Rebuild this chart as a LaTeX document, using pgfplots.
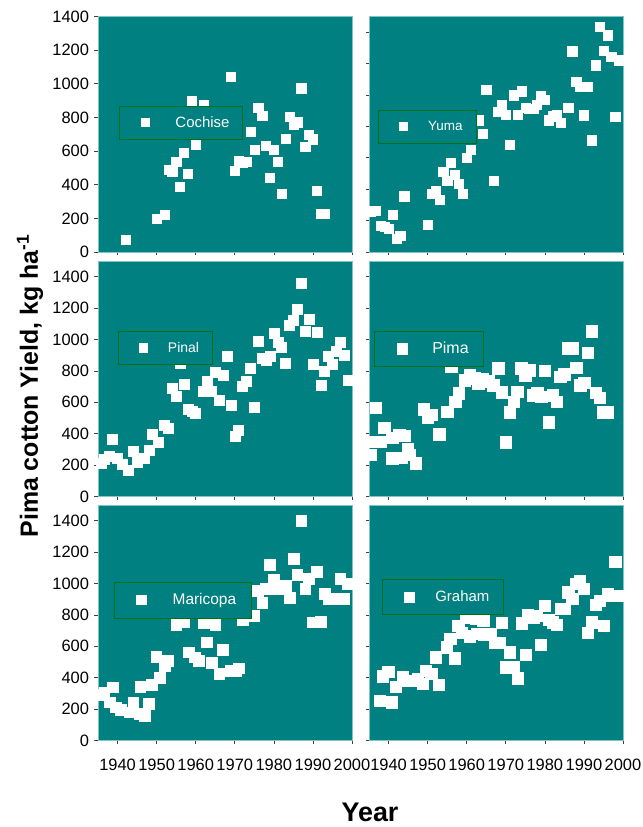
\documentclass[border=0pt]{standalone}
\usepackage{pgfplots}
\pgfplotsset{compat=1.18}
\usepackage{pgfplotstable}
\usepackage{fontspec}
\setmainfont{Liberation Sans}
\definecolor{tealbg}{RGB}{0,128,128}
\definecolor{tealedge}{RGB}{130,195,195}
\definecolor{leggreen}{RGB}{0,112,20}

\pgfplotstableread{
year yield
1942 75
1950 200
1952 220
1953 489
1954 479
1955 535
1956 390
1957 588
1958 465
1959 897
1960 641
1962 873
1969 1043
1970 483
1971 545
1972 533
1973 535
1974 715
1975 606
1976 859
1977 812
1978 632
1979 444
1980 606
1981 537
1982 345
1983 675
1984 802
1985 756
1986 772
1987 974
1988 628
1989 697
1990 671
1991 362
1992 228
1993 228
}\cochise

\pgfplotstableread{
year yield
1935.4 260
1936.7 265
1938 170
1939 160
1940 150
1941 240
1942 87
1943 102
1944 356
1950 176
1951 373
1952 388
1953 335
1954 511
1955 454
1956 570
1957 490
1958 437
1959 373
1960 602
1961 649
1963 840
1964 755
1965 1035
1967 454
1968 893
1969 939
1970 876
1971 681
1972 999
1973 876
1974 1024
1975 920
1976 912
1977 912
1978 939
1979 992
1980 971
1981 840
1982 865
1983 871
1984 825
1986 920
1987 1279
1988 1083
1989 1052
1990 871
1991 1052
1992 712
1993 1190
1994 1434
1995 1281
1996 1381
1997 1245
1998 861
1999 1221
}\yuma

\pgfplotstableread{
year yield
1935.7 212
1936.6 240
1937.9 254
1938.7 367
1940.0 244
1941.3 206
1942.7 170
1943.9 286
1945.0 218
1946.7 244
1948.0 297
1948.8 399
1950.5 346
1952.0 456
1953.0 435
1954 689
1955 636
1956 848
1957 717
1958 558
1959 541
1960 530
1962 672
1963 732
1964 668
1965 789
1966 611
1967 770
1968 891
1969 579
1970 382
1971 420
1972 704
1973 732
1974 817
1975 568
1976 986
1977 884
1978 870
1979 895
1980 1039
1981 982
1982 952
1983 848
1984 1092
1985 1124
1986 1194
1987 1357
1988 1050
1989 1131
1990 844
1991 1044
1992 711
1993 795
1994 891
1995 842
1996 923
1997 980
1998 901
1999 742
}\pinal

\pgfplotstableread{
year yield
1935.0 350
1935.4 265
1936.7 566
1938.0 350
1938.9 439
1941.0 375
1941.0 244
1943.2 248
1942.8 392
1944.0 386
1944.9 301
1945.3 265
1946.9 212
1949 556
1950 505
1951 520
1953 397
1955 541
1956 827
1957 604
1958 657
1959.5 742
1960.8 774
1962 753
1963 721
1964 749
1965.5 736
1966.8 710
1968 817
1969 664
1970 346
1971 537
1972 604
1973 668
1974 817
1975 774
1976 806
1977 647
1978 658
1979 636
1980 800
1981 473
1982 647
1983 604
1984 764
1985 778
1986 944
1987 944
1988 821
1989 710
1990 725
1991 916
1992 1054
1993 662
1994 630
1995 537
1996 537
}\pima

\pgfplotstableread{
year yield
1935.7 290
1936.6 307
1937.9 244
1938.7 339
1939.6 212
1940.9 197
1943.0 180
1944.0 240
1945.6 170
1946.9 159
1948.0 233
1945.8 344
1948.8 356
1950.7 399
1949.9 534
1952.0 477
1952.9 507
1955 736
1956.9 753
1958.2 562
1959.7 530
1960.8 509
1962 749
1962.9 626
1964 498
1965 736
1966 424
1967 579
1968.9 445
1970.2 441
1971 460
1972 770
1974.9 795
1975.8 954
1977 880
1978 969
1979 1118
1980 1022
1981 969
1982 986
1983 986
1984 910
1985 1160
1986 1054
1987 1400
1988 969
1989 1033
1990 753
1991 1075
1992 757
1993 937
1994 905
1995 901
1997 1033
1998 901
1999 997
}\maricopa

\pgfplotstableread{
year yield
1937.8 255
1940.8 244
1938.6 409
1939.9 439
1941.9 344
1943.6 403
1944.9 382
1946.2 382
1947.5 392
1948.8 361
1949.6 445
1950.9 424
1952.8 356
1952.0 530
1954.8 594
1955.8 647
1956.9 524
1957.8 732
1958.7 689
1959.8 785
1960.8 664
1962.4 778
1962.7 679
1964.2 764
1964.4 672
1966.0 679
1967.3 621
1968.4 621
1969 749
1970 467
1971 562
1972 467
1973 397
1974 747
1975 547
1975.7 800
1977 785
1978 795
1979 611
1980 859
1981 770
1982 753
1983 736
1984 838
1985 838
1986 944
1987 901
1988 997
1989 1018
1990 969
1991 689
1992 753
1993 863
1994 891
1995 732
1996 937
1997 922
1998 1139
1999 922
}\graham

\pgfplotsset{
  panel/.style={
    scale only axis, width=254bp, height=235.5bp,
    anchor=south west,
    xmin=1935, xmax=2000, ymin=0, ymax=1500,
    xtick={1940,1950,...,2000}, ytick={0,200,...,1400},
    axis background/.style={fill=tealbg},
    axis line style={draw=tealedge, line width=0.8bp},
    tick align=outside, tick pos=left,
    major tick length=3.5bp,
    tick style={black!75, line width=0.6bp},
    ticklabel style={font=\fontsize{16.5}{16.5}\selectfont, text=black},
    xticklabel style={yshift=-12bp},
    yticklabel style={xshift=-2bp},
    /pgf/number format/assume math mode=true,
    /pgf/number format/1000 sep={},
    legend style={draw=leggreen, fill=tealbg, text=white, inner xsep=0pt, inner ysep=0pt,
      line width=0.8bp, anchor=north west, /tikz/column sep=0pt,
      nodes={inner sep=0pt}, cells={anchor=center}},
  },
  legbox/.style n args={4}{legend image code/.code={\fill[white,draw=none] (-#1,-#1) rectangle (#1,#1); \path[draw=none,fill=none] (-#2,-#4) rectangle (#3,#4);}},
  pts/.style={only marks, mark=square*, mark size=#1, mark options={fill=white, draw=white}},
}

\begin{document}
\begin{tikzpicture}
\path[use as bounding box] (0,0) rectangle (643bp,827bp);

% Row 1
\begin{axis}[panel, at={(98bp,575bp)}, ymax=1400, xticklabels={},
  legend style={at={(0.083,0.621)}, font=\fontsize{15}{15}\selectfont},
  legbox={4.6bp}{26bp}{17bp}{16.5bp}]
\addplot[pts=4.6bp] table {\cochise};
\addlegendentry{\makebox[80bp][c]{Cochise}}
\end{axis}
\begin{axis}[panel, at={(369bp,575bp)}, xticklabels={}, yticklabels={},
  legend style={at={(0.035,0.604)}, font=\fontsize{13.5}{13.5}\selectfont},
  legbox={4.6bp}{25bp}{11bp}{16.5bp}]
\addplot[pts=4.6bp] table {\yuma};
\addlegendentry{\makebox[62bp][c]{Yuma}}
\end{axis}

% Row 2
\begin{axis}[panel, at={(98bp,330.5bp)}, xticklabels={},
  legend style={at={(0.079,0.703)}, font=\fontsize{14}{14}\selectfont},
  legbox={4.8bp}{25bp}{11bp}{16.5bp}]
\addplot[pts=5bp] table {\pinal};
\addlegendentry{\makebox[58bp][c]{Pinal}}
\end{axis}
\begin{axis}[panel, at={(369bp,330.5bp)}, xticklabels={}, yticklabels={},
  legend style={at={(0.020,0.703)}, font=\fontsize{16}{16}\selectfont},
  legbox={5.8bp}{28bp}{15bp}{17.5bp}]
\addplot[pts=5.8bp] table {\pima};
\addlegendentry{\makebox[66bp][c]{Pima}}
\end{axis}

% Row 3
\begin{axis}[panel, at={(98bp,86.5bp)},
  legend style={at={(0.063,0.675)}, font=\fontsize{15.5}{15.5}\selectfont},
  legbox={5.2bp}{27bp}{16bp}{18bp}]
\addplot[pts=5.4bp] table {\maricopa};
\addlegendentry{\makebox[94bp][c]{Maricopa}}
\end{axis}
\begin{axis}[panel, at={(369bp,86.5bp)}, yticklabels={},
  legend style={at={(0.051,0.684)}, font=\fontsize{15}{15}\selectfont},
  legbox={5.2bp}{27bp}{12bp}{17.5bp}]
\addplot[pts=5.6bp] table {\graham};
\addlegendentry{\makebox[82bp][c]{Graham}}
\end{axis}

\node[rotate=90, font=\bfseries\fontsize{25}{25}\selectfont] at (30bp,441bp) {Pima cotton Yield, kg ha\textsuperscript{-1}};
\node[font=\bfseries\fontsize{27}{27}\selectfont] at (370bp,15bp) {Year};
\end{tikzpicture}
\end{document}
